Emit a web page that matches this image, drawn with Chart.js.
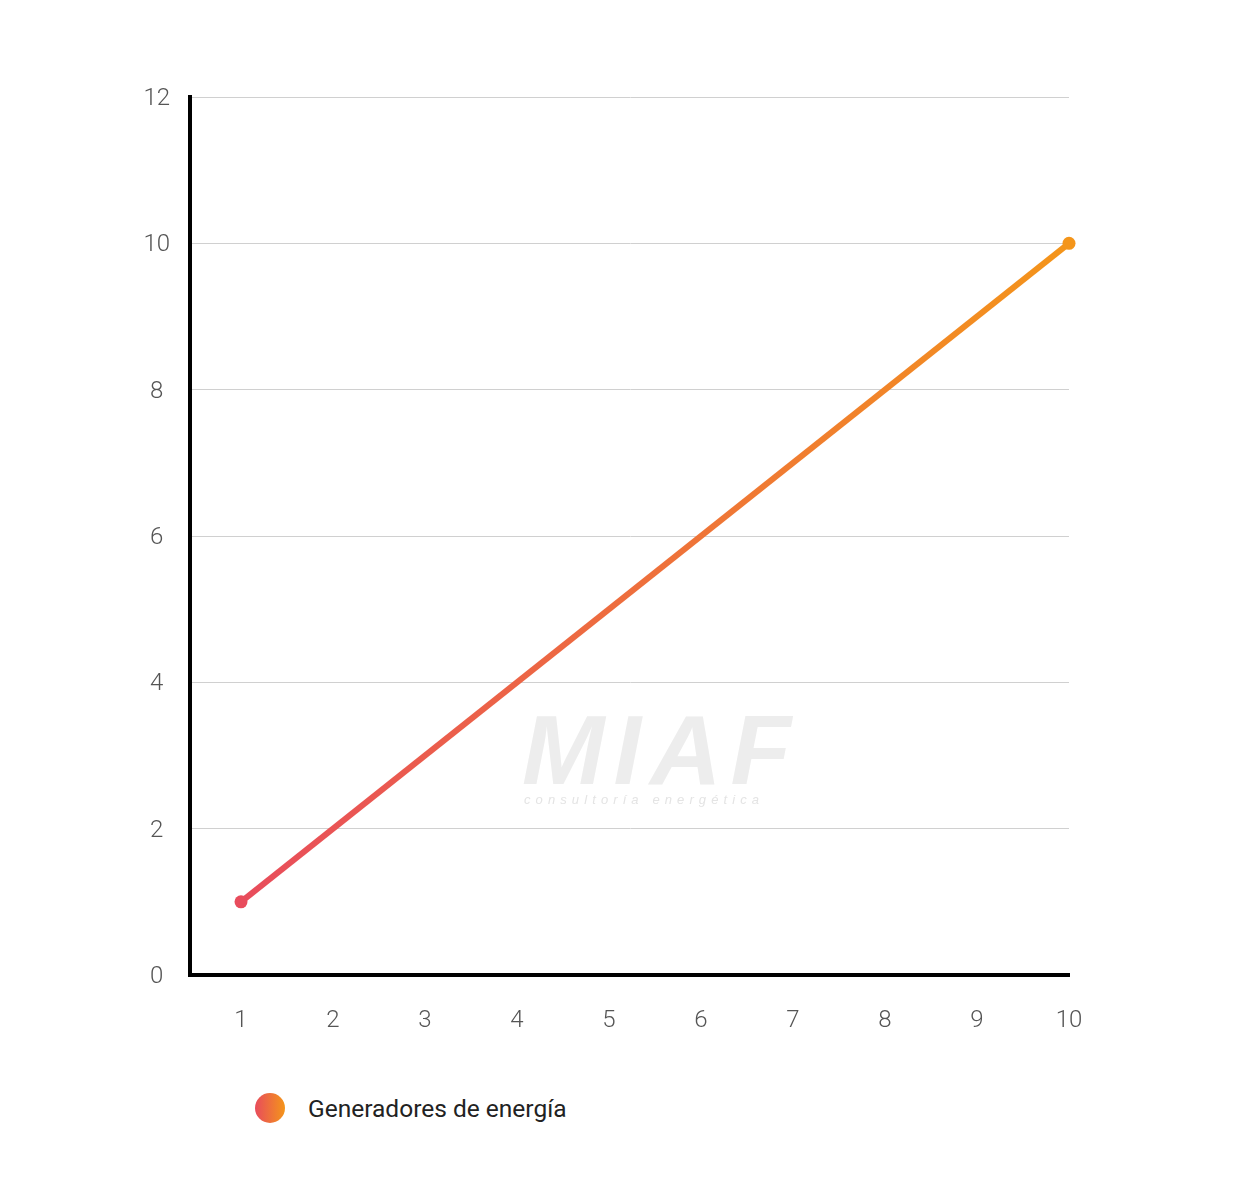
<!DOCTYPE html>
<html>
<head>
<meta charset="utf-8">
<script src="https://cdn.jsdelivr.net/npm/chart.js@4/dist/chart.umd.min.js"></script>
<style>
  body { margin: 0; background: #fff; }
  #wrap { position: relative; width: 1252px; height: 1200px; }
  #box { position: absolute; left: 0; top: 0; width: 1252px; height: 1060px; }
  #legend { position: absolute; left: 255px; top: 1093px; display: flex; align-items: center;
            font-family: Roboto, "Noto Sans", sans-serif; font-size: 24.5px; color: #222; }
  #legend .dot { width: 30px; height: 30px; border-radius: 50%; margin-right: 23px;
                 background: linear-gradient(to right, #e84c5c, #f4951a); }
</style>
</head>
<body>
<div id="wrap">
  <div id="box"><canvas id="grafico"></canvas></div>
  <div id="legend"><span class="dot"></span><span id="legendText"></span></div>
</div>
<script>
'use strict'

const serie = 'Generadores de energía'
const xValores = [1, 10]
const yValores = [1, 10]
const xTicks = [1, 2, 3, 4, 5, 6, 7, 8, 9, 10]
const yTicks = [0, 2, 4, 6, 8, 10, 12]

const rojo = '#e84c5c'
const naranja = '#f4951a'

document.querySelector('#legendText').textContent = serie

const gradiente = (ctx) => {
  const chart = ctx.chart
  if (!chart.chartArea) return rojo
  const x0 = chart.scales.x.getPixelForValue(xValores[0])
  const x1 = chart.scales.x.getPixelForValue(xValores[xValores.length - 1])
  const g = chart.ctx.createLinearGradient(x0, 0, x1, 0)
  g.addColorStop(0, rojo)
  g.addColorStop(1, naranja)
  return g
}

// marca de agua de fondo
const marcaAgua = {
  id: 'marcaAgua',
  beforeDatasetsDraw(chart) {
    const c = chart.ctx
    c.save()
    c.fillStyle = '#ededed'
    c.font = 'italic bold 99px "Liberation Sans", sans-serif'
    c.letterSpacing = '9px'
    c.textBaseline = 'alphabetic'
    c.fillText('MIAF', 522, 784)
    c.fillStyle = '#e4e4e4'
    c.font = 'italic 13px "Liberation Sans", sans-serif'
    c.letterSpacing = '5.1px'
    c.fillText('consultoría energética', 524, 804)
    c.restore()
  }
}

const fuenteTicks = { family: 'Roboto', size: 24, weight: 300 }

const data = {
  datasets: [{
    label: serie,
    data: xValores.map((x, i) => ({ x: x, y: yValores[i] })),
    borderColor: gradiente,
    borderWidth: 6,
    pointRadius: 6.5,
    pointHoverRadius: 6.5,
    pointBorderWidth: 0,
    pointBackgroundColor: [rojo, naranja],
    fill: false,
    tension: 0,
    clip: false
  }]
}

const config = {
  type: 'line',
  data: data,
  plugins: [marcaAgua],
  options: {
    responsive: true,
    maintainAspectRatio: false,
    animation: false,
    layout: { padding: { left: 100, right: 183, top: 97, bottom: 0 } },
    plugins: { legend: { display: false }, tooltip: { enabled: false } },
    scales: {
      x: {
        type: 'linear',
        min: 0.4457,
        max: 10,
        afterBuildTicks: (s) => { s.ticks = xTicks.map(v => ({ value: v })) },
        afterFit: (s) => { s.height = 85 },
        grid: { display: false, drawTicks: false },
        border: { display: true, color: '#000', width: 4 },
        ticks: { padding: 32, color: '#555', font: fuenteTicks }
      },
      y: {
        min: 0,
        max: 12,
        afterBuildTicks: (s) => { s.ticks = yTicks.map(v => ({ value: v })) },
        afterFit: (s) => { s.width = 90 },
        grid: { color: (c) => c.tick.value === 0 ? 'rgba(0,0,0,0)' : '#d0d0d0', lineWidth: 1, drawTicks: false },
        border: { display: true, color: '#000', width: 4 },
        ticks: { padding: 20, labelOffset: 2, crossAlign: 'center', color: '#555', font: fuenteTicks }
      }
    }
  }
}

let grafico = new Chart(document.querySelector('#grafico'), config)
</script>
</body>
</html>
